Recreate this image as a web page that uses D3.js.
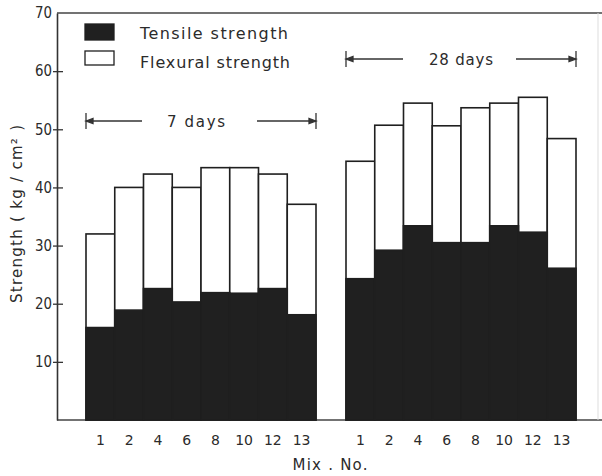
<!DOCTYPE html>
<html>
<head>
<meta charset="utf-8">
<script src="https://cdn.jsdelivr.net/npm/d3@7"></script>
<style>
  body { margin: 0; background: #fff; }
  text { font-family: "DejaVu Sans", sans-serif; fill: #2b2b2b; }
</style>
</head>
<body>
<svg id="svg" width="602" height="476"></svg>
<script>
// values
const mixes = ["1", "2", "4", "6", "8", "10", "12", "13"];
const ages = ["7 days", "28 days"];
const flexural7 = [32, 40, 42.3, 40, 43.4, 43.4, 42.3, 37.1];
const tensile7 = [15.9, 18.9, 22.6, 20.3, 21.9, 21.8, 22.6, 18.1];
const flexural28 = [44.5, 50.7, 54.5, 50.6, 53.7, 54.5, 55.5, 48.4];
const tensile28 = [24.3, 29.2, 33.4, 30.5, 30.5, 33.4, 32.3, 26.1];
const yTicks = [10, 20, 30, 40, 50, 60, 70];

const svg = d3.select("#svg");
const ink = "#1f1f1f";

const y = d3.scaleLinear().domain([0, 70]).range([420, 13]);
const xAge = d3.scaleBand().domain(ages).range([86, 576]).paddingInner(30 / 260);
const xMix = d3.scaleBand().domain(mixes).range([0, xAge.bandwidth()]);

const rows = [];
mixes.forEach((m, i) => {
  rows.push({ age: ages[0], mix: m, flex: flexural7[i], tens: tensile7[i] });
  rows.push({ age: ages[1], mix: m, flex: flexural28[i], tens: tensile28[i] });
});
const bx = d => xAge(d.age) + xMix(d.mix);

// frame
svg.append("line").attr("x1", 57).attr("x2", 602).attr("y1", y(70)).attr("y2", y(70))
  .attr("stroke", "#444").attr("stroke-width", 1.6);
svg.append("line").attr("x1", 57).attr("x2", 602).attr("y1", y(0)).attr("y2", y(0))
  .attr("stroke", "#444").attr("stroke-width", 1.6);
svg.append("line").attr("x1", 598).attr("x2", 598).attr("y1", y(70)).attr("y2", y(0))
  .attr("stroke", "#ddd").attr("stroke-width", 1);

// bars: white = flexural, black overlay = tensile
const g = svg.append("g");
g.selectAll("rect.flex").data(rows).join("rect")
  .attr("class", "flex")
  .attr("x", bx).attr("width", xMix.bandwidth())
  .attr("y", d => y(d.flex)).attr("height", d => y(0) - y(d.flex))
  .attr("fill", "#fff").attr("stroke", ink).attr("stroke-width", 1.6);
g.selectAll("rect.tens").data(rows).join("rect")
  .attr("class", "tens")
  .attr("x", bx).attr("width", xMix.bandwidth())
  .attr("y", d => y(d.tens)).attr("height", d => y(0) - y(d.tens))
  .attr("fill", "#202020").attr("stroke", ink).attr("stroke-width", 1.6);

// y axis
const yAxis = svg.append("g").attr("transform", "translate(57,0)")
  .call(d3.axisLeft(y).tickValues(yTicks).tickSizeOuter(0).tickPadding(6));
yAxis.select(".domain").attr("stroke", "#333").attr("stroke-width", 1.6);
yAxis.selectAll(".tick line").attr("x1", -4).attr("x2", 6).attr("stroke", "#333").attr("stroke-width", 1.3)
  .filter(d => d === 70).remove();
yAxis.selectAll(".tick text").attr("font-size", 15).attr("font-family", "DejaVu Sans").attr("fill", "#2b2b2b")
  .attr("textLength", d => 17).attr("lengthAdjust", "spacingAndGlyphs").attr("x", -5);

// x tick labels
ages.forEach(a => {
  svg.append("g").selectAll("text").data(mixes).join("text")
    .attr("x", m => xAge(a) + xMix(m) + xMix.bandwidth() / 2)
    .attr("y", 445)
    .attr("text-anchor", "middle").attr("font-size", 14)
    .text(m => m);
});

svg.append("text").attr("x", 330).attr("y", 470).attr("text-anchor", "middle")
  .attr("font-size", 15).attr("textLength", 75).attr("lengthAdjust", "spacing")
  .text("Mix . No.");

svg.append("text").attr("transform", "translate(22,214) rotate(-90)")
  .attr("text-anchor", "middle").attr("font-size", 15)
  .attr("textLength", 178).attr("lengthAdjust", "spacing")
  .text("Strength  ( kg / cm² )");

// legend
const legend = [
  { label: "Tensile strength", fill: "#202020", y: 24, h: 16, ty: 39, w: 148 },
  { label: "Flexural strength", fill: "#fff", y: 51, h: 14, ty: 68, w: 150 }
];
svg.selectAll("rect.leg").data(legend).join("rect").attr("class", "leg")
  .attr("x", 85).attr("y", d => d.y).attr("width", 29).attr("height", d => d.h)
  .attr("fill", d => d.fill).attr("stroke", ink).attr("stroke-width", 1.3);
svg.selectAll("text.leg").data(legend).join("text").attr("class", "leg")
  .attr("x", 140).attr("y", d => d.ty).attr("font-size", 16)
  .attr("textLength", d => d.w).attr("lengthAdjust", "spacing")
  .text(d => d.label);

// age span markers
const spans = [
  { age: ages[0], ly: 121, tx: 196, tw: 58, gapL: 142, gapR: 257 },
  { age: ages[1], ly: 59, tx: 461, tw: 64, gapL: 403, gapR: 516 }
];
spans.forEach(s => {
  const x0 = xAge(s.age), x1 = xAge(s.age) + xAge.bandwidth();
  const m = svg.append("g").attr("stroke", "#333").attr("stroke-width", 1.3).attr("fill", "#333");
  m.append("line").attr("x1", x0).attr("x2", x0).attr("y1", s.ly - 8).attr("y2", s.ly + 8);
  m.append("line").attr("x1", x1).attr("x2", x1).attr("y1", s.ly - 8).attr("y2", s.ly + 8);
  m.append("line").attr("x1", x0).attr("x2", s.gapL).attr("y1", s.ly).attr("y2", s.ly);
  m.append("line").attr("x1", s.gapR).attr("x2", x1).attr("y1", s.ly).attr("y2", s.ly);
  m.append("path").attr("d", `M${x0},${s.ly}l7,-2.5v5z`);
  m.append("path").attr("d", `M${x1},${s.ly}l-7,-2.5v5z`);
  svg.append("text").attr("x", s.tx).attr("y", s.ly + 6).attr("text-anchor", "middle")
    .attr("font-size", 15).attr("textLength", s.tw).attr("lengthAdjust", "spacing")
    .text(s.age);
});
</script>
</body>
</html>
